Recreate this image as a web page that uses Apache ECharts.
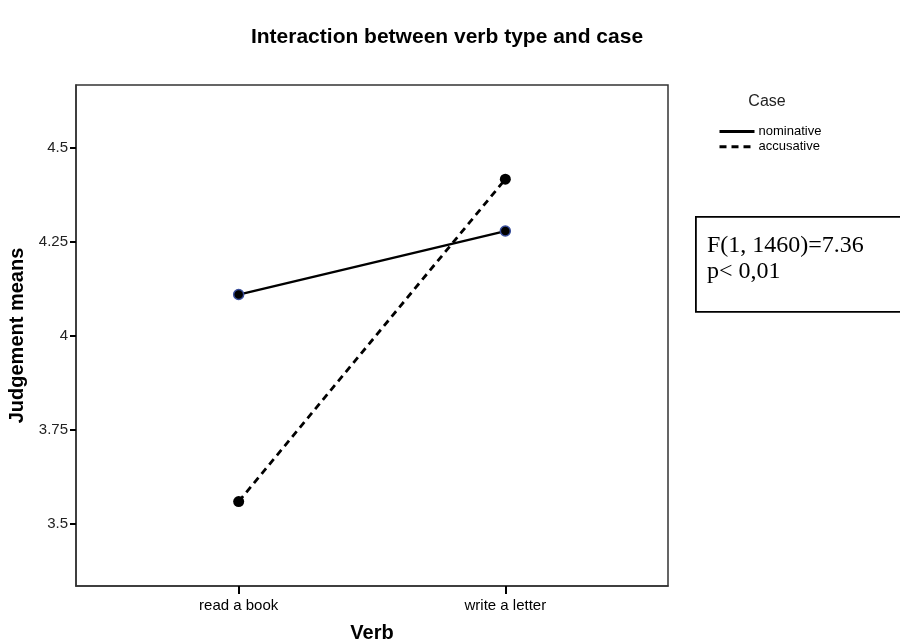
<!DOCTYPE html>
<html>
<head>
<meta charset="utf-8">
<script src="https://cdn.jsdelivr.net/npm/echarts@6/dist/echarts.min.js"></script>
<style>html,body{margin:0;padding:0;background:#fff;}#c{width:900px;height:641px;}</style>
</head>
<body>
<div id="c"></div>
<script>
var categories = ['read a book', 'write a letter'];
var nominative = [4.109, 4.278];
var accusative = [3.558, 4.416];
var yTicks = [3.5, 3.75, 4, 4.25, 4.5];
var statLines = ['F(1, 1460)=7.36', 'p< 0,01'];

var chart = echarts.init(document.getElementById('c'), null, {renderer: 'canvas'});
var font = 'Liberation Sans, Arial, sans-serif';
chart.setOption({
  animation: false,
  backgroundColor: '#fff',
  title: [
    {text: 'Interaction between verb type and case', left: 442, top: 22, textAlign: 'center',
     textStyle: {fontFamily: font, fontSize: 21, fontWeight: 'bold', color: '#000'}},
    {text: 'Case', left: 762, top: 89, textAlign: 'center',
     textStyle: {fontFamily: font, fontSize: 16, fontWeight: 'normal', color: '#222'}}
  ],
  legend: {
    orient: 'vertical', left: 713, top: 120, itemWidth: 35, itemHeight: 14, itemGap: 2,
    textStyle: {fontFamily: font, fontSize: 13, color: '#000', padding: [0, 0, 0, -1]},
    itemStyle: {opacity: 0},
    lineStyle: {width: 3},
    data: ['nominative', 'accusative']
  },
  grid: {left: 76, right: 232, top: 85, bottom: 55, show: true, borderColor: '#333', borderWidth: 1.5,
         containLabel: false, outerBoundsMode: 'none'},
  xAxis: {
    type: 'value', min: -0.61, max: 1.61,
    name: 'Verb', nameLocation: 'middle', nameGap: 37,
    nameTextStyle: {fontFamily: font, fontSize: 20, fontWeight: 'bold', color: '#000'},
    axisLine: {show: true, onZero: false, lineStyle: {color: '#333', width: 1.5}},
    axisTick: {show: true, length: 8, customValues: [0, 1], lineStyle: {color: '#000', width: 2}},
    axisLabel: {customValues: [0, 1], fontFamily: font, fontSize: 15, color: '#000', margin: 12,
      formatter: function (v) { return categories[Math.round(v)]; }},
    splitLine: {show: false}
  },
  yAxis: {
    type: 'value', min: 3.3333, max: 4.6667,
    name: 'Judgement means', nameLocation: 'middle', nameGap: 46,
    nameTextStyle: {fontFamily: font, fontSize: 20, fontWeight: 'bold', color: '#000'},
    axisLine: {show: true, onZero: false, lineStyle: {color: '#333', width: 1.5}},
    axisTick: {show: true, length: 6, customValues: yTicks, lineStyle: {color: '#000', width: 2}},
    axisLabel: {customValues: yTicks, fontFamily: font, fontSize: 15, color: '#222', margin: 8,
      formatter: function (v) { return String(+v.toFixed(2)); }},
    splitLine: {show: false}
  },
  series: [
    {name: 'nominative', type: 'line', data: nominative.map(function (v, i) { return [i, v]; }),
     symbol: 'circle', symbolSize: 10, lineStyle: {color: '#000', width: 2.4, type: 'solid'},
     itemStyle: {color: '#000', borderColor: '#3a4f9c', borderWidth: 1.5}},
    {name: 'accusative', type: 'line', data: accusative.map(function (v, i) { return [i, v]; }),
     symbol: 'circle', symbolSize: 11, lineStyle: {color: '#000', width: 2.8, type: [7, 5]},
     itemStyle: {color: '#000', borderWidth: 0}}
  ],
  graphic: [
    {type: 'rect', left: 695, top: 216, shape: {width: 230, height: 95},
     style: {fill: '#fff', stroke: '#000', lineWidth: 1.8}},
    {type: 'text', left: 707, top: 233,
     style: {text: statLines.join('\n'), fill: '#000', font: '24px "Liberation Serif", "Times New Roman", serif', lineHeight: 26}}
  ]
});
</script>
</body>
</html>
